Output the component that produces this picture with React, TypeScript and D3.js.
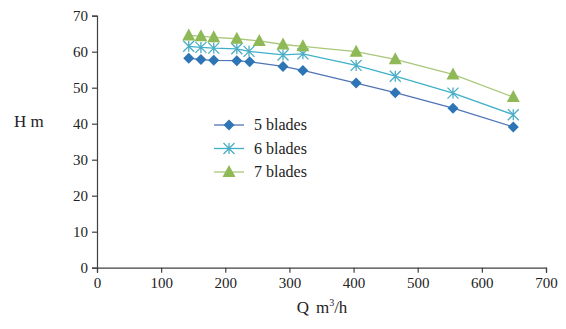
import { useRef, useEffect } from "react"
import * as d3 from "d3"

const flow5 = [143, 162, 182, 218, 238, 290, 321, 404, 465, 555, 649]
const head5 = [58.2, 57.8, 57.6, 57.5, 57.2, 55.9, 54.8, 51.3, 48.6, 44.3, 39.1]
const flow6 = [143, 162, 182, 218, 237, 290, 321, 404, 465, 555, 649]
const head6 = [61.5, 61.2, 61.0, 60.8, 60.1, 59.1, 59.4, 56.2, 53.2, 48.5, 42.5]
const flow7 = [143, 162, 182, 218, 253, 290, 321, 404, 465, 555, 649]
const head7 = [64.5, 64.3, 64.0, 63.6, 63.0, 62.0, 61.5, 60.0, 57.9, 53.7, 47.4]

const seriesNames = ["5 blades", "6 blades", "7 blades"]
const xTicks = [0, 100, 200, 300, 400, 500, 600, 700]
const yTicks = [0, 10, 20, 30, 40, 50, 60, 70]

const font = "'Times New Roman', 'Liberation Serif', 'DejaVu Serif', serif"

export default function App() {
  const svgRef = useRef<SVGSVGElement | null>(null)

  useEffect(() => {
    if (!svgRef.current) return
    d3.select(svgRef.current).selectAll("*").remove()

    const svg = d3.select(svgRef.current)
    const x = d3.scaleLinear().domain([0, 700]).range([97, 546])
    const y = d3.scaleLinear().domain([0, 70]).range([267.7, 15.7])

    const series = [
      { name: seriesNames[0], q: flow5, h: head5, line: "#4f74b8", fill: "#2e75b6", shape: "diamond" },
      { name: seriesNames[1], q: flow6, h: head6, line: "#3fb0c8", fill: "#4bacc6", shape: "star" },
      { name: seriesNames[2], q: flow7, h: head7, line: "#a9c77a", fill: "#8fb956", shape: "triangle" },
    ]

    // axes
    const xAxis = svg
      .append("g")
      .attr("transform", `translate(0,${y(0)})`)
      .call(d3.axisBottom(x).tickValues(xTicks).tickSize(5).tickPadding(5).tickFormat(d3.format("d")))
    const yAxis = svg
      .append("g")
      .attr("transform", `translate(${x(0)},0)`)
      .call(d3.axisLeft(y).tickValues(yTicks).tickSize(5).tickPadding(4).tickFormat(d3.format("d")))
    for (const ax of [xAxis, yAxis]) {
      ax.attr("font-family", font).attr("font-size", 15)
      ax.select(".domain").attr("stroke", "#404040").attr("stroke-width", 1.2)
      ax.selectAll(".tick line").attr("stroke", "#404040").attr("stroke-width", 1.2)
      ax.selectAll("text").attr("fill", "#222")
    }

    const marker = (g: any, shape: string, fill: string, cx: number, cy: number) => {
      if (shape === "diamond") {
        g.append("path")
          .attr("d", `M${cx},${cy - 5.5}L${cx + 5.5},${cy}L${cx},${cy + 5.5}L${cx - 5.5},${cy}Z`)
          .attr("fill", fill)
      } else if (shape === "triangle") {
        g.append("path")
          .attr("d", `M${cx},${cy - 7}L${cx + 6.5},${cy + 5}L${cx - 6.5},${cy + 5}Z`)
          .attr("fill", fill)
      } else {
        const r = 5.5
        g.append("path")
          .attr(
            "d",
            `M${cx},${cy - r}L${cx},${cy + r}M${cx - r},${cy - r}L${cx + r},${cy + r}M${cx - r},${cy + r}L${cx + r},${cy - r}`,
          )
          .attr("stroke", fill)
          .attr("stroke-width", 1.3)
          .attr("fill", "none")
      }
    }

    const line = d3
      .line<[number, number]>()
      .x((d) => x(d[0]))
      .y((d) => y(d[1]))

    series.forEach((s) => {
      const pts = s.q.map((q, i) => [q, s.h[i]] as [number, number])
      svg.append("path").datum(pts).attr("d", line).attr("fill", "none").attr("stroke", s.line).attr("stroke-width", 1.3)
      const g = svg.append("g")
      pts.forEach((p) => marker(g, s.shape, s.fill, x(p[0]), y(p[1])))
    })

    // legend
    series.forEach((s, i) => {
      const ly = 125 + i * 23.5
      svg.append("line").attr("x1", 214).attr("x2", 244).attr("y1", ly).attr("y2", ly).attr("stroke", s.line).attr("stroke-width", 1.3)
      marker(svg.append("g"), s.shape, s.fill, 229, ly)
      svg
        .append("text")
        .attr("x", 254)
        .attr("y", ly + 5)
        .attr("font-family", font)
        .attr("font-size", 16)
        .attr("fill", "#222")
        .text(s.name)
    })

    // axis titles
    svg.append("text").attr("x", 14).attr("y", 127).attr("font-family", font).attr("font-size", 17).attr("fill", "#222").text("H m")
    const xt = svg
      .append("text")
      .attr("x", 322)
      .attr("y", 313)
      .attr("text-anchor", "middle")
      .attr("font-family", font)
      .attr("font-size", 17)
      .attr("fill", "#222")
    xt.append("tspan").text("Q")
    xt.append("tspan").attr("dx", 7).text("m")
    xt.append("tspan").attr("font-size", 10).attr("dy", -7).text("3")
    xt.append("tspan").attr("dy", 7).text("/h")
  }, [])

  return (
    <svg
      ref={svgRef}
      width={566}
      height={329}
      style={{ position: "absolute", left: 0, top: 0, background: "#fff" }}
    ></svg>
  )
}
